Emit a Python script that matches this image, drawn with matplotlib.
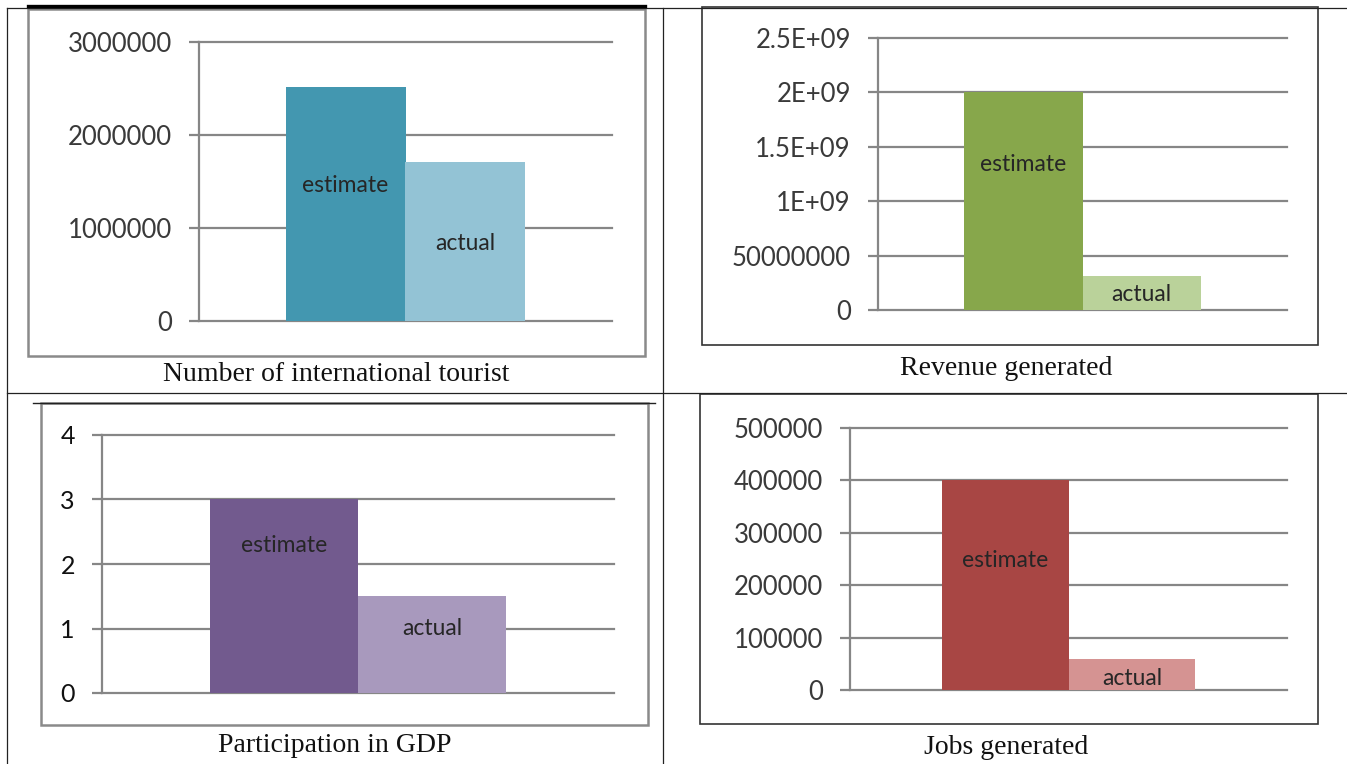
import matplotlib
matplotlib.use("Agg")
import matplotlib.pyplot as plt
from matplotlib.lines import Line2D
from matplotlib.patches import Rectangle

W, H = 1347, 764

series = ["estimate", "actual"]

tourists = [2520000, 1710000]
tourists_ticks = [0, 1000000, 2000000, 3000000]
tourists_labels = ["0", "1000000", "2000000", "3000000"]

revenue = [2.0e9, 3.1e8]
revenue_ticks = [0, 0.5e9, 1.0e9, 1.5e9, 2.0e9, 2.5e9]
revenue_labels = ["0", "50000000", "1E+09", "1.5E+09", "2E+09", "2.5E+09"]

gdp = [3.0, 1.5]
gdp_ticks = [0, 1, 2, 3, 4]
gdp_labels = ["0", "1", "2", "3", "4"]

jobs = [400000, 60000]
jobs_ticks = [0, 100000, 200000, 300000, 400000, 500000]
jobs_labels = ["0", "100000", "200000", "300000", "400000", "500000"]

captions = ["Number of international tourist", "Revenue generated",
            "Participation in GDP", "Jobs generated"]

GRID = "#868686"


def fx(x):
    return x / W


def fy(y):
    return 1 - y / H


def line(fig, x0, y0, x1, y1, color="#222222", lw=0.9):
    fig.add_artist(Line2D([fx(x0), fx(x1)], [fy(y0), fy(y1)], color=color, lw=lw))


def frame(fig, l, t, r, b, color, lw):
    fig.add_artist(Rectangle((fx(l), fy(b)), fx(r) - fx(l), fy(t) - fy(b),
                             fill=False, ec=color, lw=lw))


def panel(fig, box, values, ticks, labels, colors, label_pos,
          tick_color="#3a3a3a", tick_size=18.5):
    l, t, r, b = box
    ax = fig.add_axes([fx(l), fy(b), fx(r) - fx(l), fy(t) - fy(b)])
    bar_w = 0.29
    xs = [-bar_w / 2, bar_w / 2]
    ax.bar(xs, values, width=bar_w, color=colors, zorder=3)
    ax.set_xlim(-0.5, 0.5)
    ax.set_ylim(ticks[0], ticks[-1])
    ax.set_yticks(ticks)
    ax.set_yticklabels(labels, family="Lato")
    ax.set_xticks([])
    ax.set_axisbelow(True)
    ax.yaxis.grid(True, color=GRID, lw=1.6)
    for gl in ax.get_ygridlines():
        gl.set_clip_on(False)
    for s in ["top", "right", "bottom"]:
        ax.spines[s].set_visible(False)
    ax.spines["left"].set_color(GRID)
    ax.spines["left"].set_linewidth(1.6)
    ax.tick_params(axis="y", length=7.5, width=1.6, color=GRID, pad=12,
                   labelsize=tick_size, labelcolor=tick_color)
    ax.patch.set_alpha(0)
    for name, v, x, f in zip(series, values, xs, label_pos):
        ax.text(x, v * f, name, ha="center", va="center", fontsize=16.5,
                family="Lato", color="#262626", zorder=4)
    return ax


fig = plt.figure(figsize=(W / 100, H / 100), dpi=100)

# table lines
line(fig, 7, 8, 7, 764)
line(fig, 7, 8, 1347, 8)
line(fig, 663, 8, 663, 764)
line(fig, 7, 393, 1347, 393)

# chart frames
frame(fig, 28, 9, 645, 356, "#8a8a8a", 1.8)
line(fig, 28, 6, 645, 6, color="#000000", lw=2.4)
frame(fig, 702, 7, 1318, 345, "#333333", 1.2)
frame(fig, 41, 403, 648, 725, "#8a8a8a", 1.8)
line(fig, 33, 403, 655, 403, color="#222222", lw=1.0)
frame(fig, 700, 394, 1318, 724, "#333333", 1.2)

panel(fig, (199, 42, 612, 321), tourists, tourists_ticks, tourists_labels,
      ["#4397B0", "#93C3D5"], [0.58, 0.49])
panel(fig, (878, 38, 1287, 310), revenue, revenue_ticks, revenue_labels,
      ["#87A74B", "#BAD29A"], [0.67, 0.47])
panel(fig, (102, 435, 614, 693), gdp, gdp_ticks, gdp_labels,
      ["#725A8E", "#A899BD"], [0.76, 0.67], tick_color="#111111", tick_size=18)
panel(fig, (850, 428, 1287, 690), jobs, jobs_ticks, jobs_labels,
      ["#A84644", "#D59392"], [0.62, 0.38])

cap_pos = [(336, 375), (1006, 368), (335, 746), (1006, 747)]
for text, (cx, cy) in zip(captions, cap_pos):
    fig.text(fx(cx), fy(cy), text, ha="center", va="center", fontsize=20,
             family="Liberation Serif", color="#111111")

fig.savefig("out.png", dpi=100)
